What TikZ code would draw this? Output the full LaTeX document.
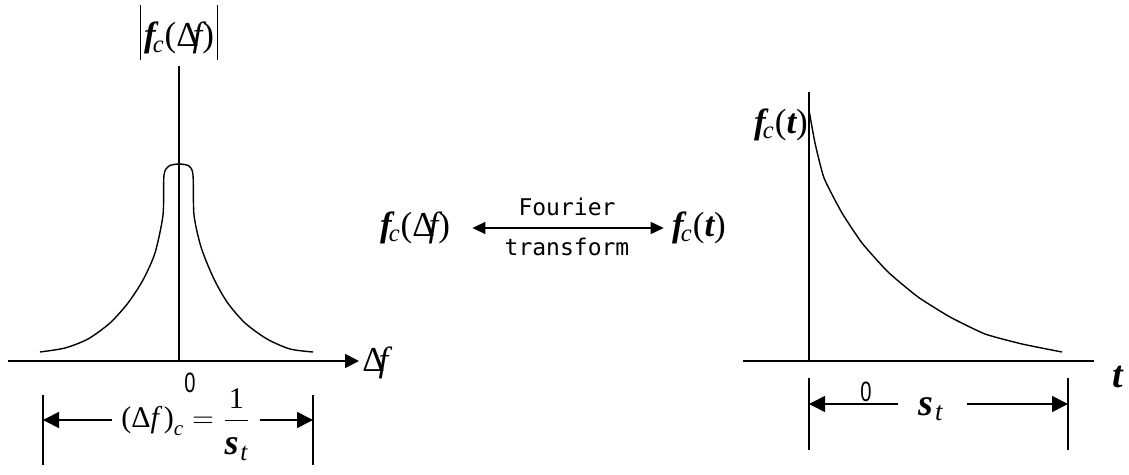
\documentclass[tikz,border=0pt]{standalone}
\usepackage{amsmath}
\usepackage{graphicx}
\usepackage{fontspec}
\setmainfont{Liberation Serif}
\setsansfont{Liberation Sans}
\newfontfamily\gothfont{DejaVu Sans Mono}
\usetikzlibrary{arrows.meta, positioning}
\newcommand{\fcsym}{{\bfseries\itshape f}\kern-0.08em\textsubscript{\itshape c}}
\newcommand{\stsym}{{\bfseries\itshape s}\kern0.05em\textsubscript{\itshape t}}
\newcommand{\dfsym}{Δ\kern-0.18em{\itshape f}}
\newcommand{\absbar}{\rule[-6.5pt]{0.7pt}{27.5pt}}
\newcommand{\narrowzero}{\scalebox{0.72}[1]{0}}

\begin{document}
\begin{tikzpicture}[x=0.5pt, y=-0.5pt,
      axis/.style={line width=0.9pt},
      curve/.style={line width=0.7pt},
      tick/.style={line width=0.9pt},
      dim/.style={-{Triangle[length=8pt, width=8pt]}, line width=0.8pt},
      twoway/.style={{Triangle[length=6.5pt, width=6pt]}-{Triangle[length=6.5pt, width=6pt]}, line width=0.8pt},
      lbl/.style={font=\fontsize{17.5}{20}\selectfont, inner sep=1pt},
      word/.style={font=\gothfont\fontsize{11.5}{13}\selectfont, inner sep=1pt},
      zero/.style={font=\sffamily\fontsize{14}{15}\selectfont, inner sep=1pt},
    ]
    \useasboundingbox (0,0) rectangle (1129,475);

    % left: spectrum
    \coordinate (lo) at (179,361);
    \coordinate (ltop) at (179,66);
    \coordinate (lx0) at (8,361);
    \coordinate (lx1) at (359,361);
    \draw[axis] (ltop) -- (lo);
    \draw[axis, -{Triangle[length=7pt, width=7pt]}] (lx0) -- (lx1);
    \draw[curve] plot[smooth, tension=0.45] coordinates {(40,352) (65,348) (88,339) (110,323) (128,303) (143,280) (155,253) (163,215) (164,175) (169,166) (179,164) (189,166) (193,175) (194,215) (201,247) (213,277) (227,302) (245,323) (267,339) (290,349) (313,352)};
    \node[lbl, anchor=base] (magf) at (179,47) {\absbar\kern1.5pt\fcsym(\dfsym)\kern1.5pt\absbar};
    \node[lbl, anchor=west] (dfax) at (360,363) {\dfsym};
    \node[zero] (zl) at (190,383) {\narrowzero};

    \coordinate (tla) at (43,395);
    \coordinate (tlb) at (43,465);
    \coordinate (tra) at (313,395);
    \coordinate (trb) at (313,465);
    \draw[tick] (tla) -- (tlb);
    \draw[tick] (tra) -- (trb);
    \node[font=\fontsize{15}{17}\selectfont, inner sep=0pt, anchor=base] (dfc) at (186,428)
      {$\text{(Δ{\itshape f}\,)}_{\text{\itshape c}} = \dfrac{\text{1}}{\rule{0pt}{15pt}\text{\fontsize{18}{20}\selectfont\stsym}}$};
    \coordinate (la) at (112,420);
    \coordinate (ra) at (260,420);
    \draw[dim] (la) -- (tla |- la);
    \draw[dim] (ra) -- (tra |- ra);

    % middle: transform pair
    \node[lbl] (fdf) at (415,228) {\fcsym(\dfsym)};
    \node[lbl] (fct) at (699,228) {\fcsym({\bfseries\itshape t})};
    \draw[twoway, shorten <=10pt, shorten >=3pt] (fdf) -- (fct);
    \node[word] (four) at (567,207) {Fourier};
    \node[word] (trans) at (567,247) {transform};

    % right: time function
    \coordinate (ro) at (809,361);
    \coordinate (rtop) at (809,92);
    \coordinate (rx0) at (743,361);
    \coordinate (rx1) at (1094,361);
    \draw[axis] (rtop) -- (ro);
    \draw[axis] (rx0) -- (rx1);
    \draw[curve] plot[smooth, tension=0.3] coordinates {(809,110) (815,143) (824,178) (842,213) (862,243) (888,272) (918,297) (950,317) (985,334) (1022,344) (1062,352)};
    \node[lbl] (fctl) at (781,125) {\fcsym({\bfseries\itshape t})};
    \node[lbl, font=\fontsize{19}{21}\selectfont] (tax) at (1118,377) {\bfseries\itshape t};

    \coordinate (sla) at (809,378);
    \coordinate (slb) at (809,450);
    \coordinate (sra) at (1068,378);
    \coordinate (srb) at (1068,450);
    \draw[tick] (sla) -- (slb);
    \draw[tick] (sra) -- (srb);
    \node[zero] (zr) at (866,392) {\narrowzero};
    \node[font=\fontsize{19}{21}\selectfont, inner sep=0pt] (sig) at (931,409) {\stsym};
    \coordinate (sa) at (898,404);
    \coordinate (sb) at (967,404);
    \draw[dim] (sa) -- (sla |- sa);
    \draw[dim] (sb) -- (sra |- sb);
\end{tikzpicture}
\end{document}
